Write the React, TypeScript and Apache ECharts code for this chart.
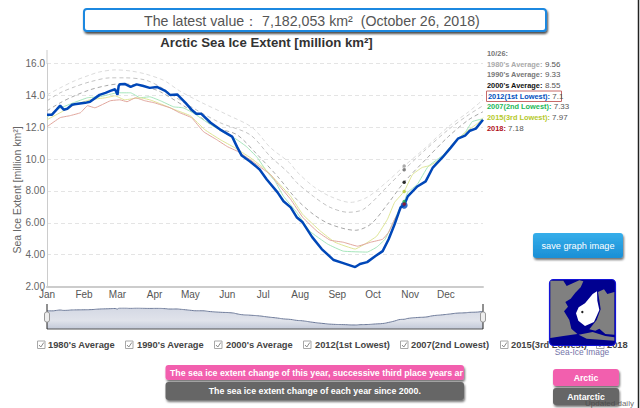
import React, { useEffect, useRef } from "react";
import * as echarts from "echarts";

const monthNames = ["Jan", "Feb", "Mar", "Apr", "May", "Jun", "Jul", "Aug", "Sep", "Oct", "Nov", "Dec"];
const monthStarts = [0, 31, 59, 90, 120, 151, 181, 212, 243, 273, 304, 334];
const yTickLabels: Record<number, string> = { 2: "2.00", 4: "4.00", 6: "6.00", 8: "8.00", 10: "10.0", 12: "12.0", 14: "14.0", 16: "16.0" };

const days1980 = [0, 11, 23, 36, 44, 57, 70, 82, 95, 100, 111, 128, 151, 172, 187, 203, 209, 223, 237, 254, 268, 285, 299, 317, 336, 353, 365];
const values1980 = [14.03, 14.47, 14.91, 15.28, 15.47, 15.6, 15.53, 15.35, 15.03, 14.85, 14.28, 13.6, 12.78, 11.97, 10.72, 9.78, 9.22, 8.28, 7.66, 7.28, 7.6, 8.6, 9.56, 10.72, 12.03, 12.97, 13.72];
const days1990 = [0, 11, 23, 36, 53, 65, 82, 95, 107, 122, 145, 170, 187, 201, 209, 223, 237, 252, 265, 285, 299, 317, 336, 353, 365];
const values1990 = [13.66, 14.16, 14.53, 14.85, 15.1, 15.1, 14.97, 14.53, 13.91, 13.22, 12.28, 11.53, 10.16, 9.22, 8.53, 7.66, 6.97, 6.66, 6.85, 8.28, 9.33, 10.6, 11.85, 12.78, 13.35];
const days2000 = [0, 11, 23, 36, 49, 61, 74, 86, 95, 117, 142, 159, 176, 193, 209, 223, 237, 258, 271, 285, 299, 317, 336, 353, 365];
const values2000 = [13.03, 13.53, 13.97, 14.35, 14.6, 14.72, 14.66, 14.47, 14.22, 13.22, 11.97, 11.53, 10.28, 8.91, 7.47, 6.53, 5.91, 5.53, 5.91, 7.16, 8.55, 9.97, 11.41, 12.47, 12.97];
const days2012 = [0, 4, 8, 11, 14, 17, 21, 23, 32, 36, 44, 49, 53, 57, 59, 60, 61, 65, 70, 75, 80, 86, 92, 99, 103, 109, 111, 116, 121, 125, 129, 137, 145, 155, 159, 163, 170, 178, 184, 193, 198, 204, 209, 214, 222, 230, 240, 248, 258, 262, 268, 275, 281, 286, 291, 296, 299, 302, 310, 317, 323, 331, 338, 344, 350, 354, 359, 365];
const values2012 = [12.78, 12.78, 13.1, 13.35, 13.1, 13.16, 13.41, 13.44, 13.53, 13.6, 14.03, 14.16, 14.28, 14.38, 14.03, 14.6, 14.69, 14.72, 14.53, 14.69, 14.6, 14.47, 14.53, 14.28, 14.03, 14.06, 13.91, 13.53, 13.1, 12.85, 12.85, 12.28, 11.85, 11.41, 10.78, 10.22, 9.85, 9.35, 8.72, 7.91, 7.35, 6.97, 6.35, 6.03, 5.1, 4.35, 3.66, 3.47, 3.22, 3.41, 3.53, 3.91, 4.22, 4.97, 5.91, 6.97, 7.1, 7.66, 8.28, 8.6, 9.47, 10.1, 10.72, 11.28, 11.47, 11.78, 11.91, 12.47];
const days2007 = [0, 8, 22, 34, 44, 59, 70, 78, 86, 95, 106, 114, 122, 137, 147, 159, 167, 176, 184, 191, 198, 209, 220, 235, 248, 268, 276, 283, 290, 296, 299, 302, 310, 319, 332, 343, 350, 356, 365];
const values2007 = [12.6, 13.1, 13.53, 13.85, 13.91, 14.16, 14.16, 13.85, 13.91, 13.66, 13.28, 13.22, 12.91, 12.16, 11.72, 11.22, 10.78, 10.1, 9.22, 8.6, 7.66, 6.66, 5.47, 4.66, 4.22, 4.16, 4.47, 4.97, 6.03, 7.03, 7.33, 7.91, 8.41, 9.53, 10.28, 11.22, 11.66, 12.35, 12.53];
const days2015 = [0, 11, 23, 36, 49, 57, 65, 78, 86, 95, 107, 120, 132, 145, 157, 170, 183, 191, 204, 214, 229, 241, 258, 266, 276, 285, 291, 299, 306, 314, 321, 331, 339, 350, 361, 365];
const values2015 = [12.47, 12.91, 13.41, 13.72, 13.85, 13.97, 13.72, 13.85, 13.72, 13.47, 13.1, 12.72, 11.85, 11.22, 10.72, 10.1, 9.35, 8.72, 7.66, 6.53, 5.47, 4.78, 4.35, 4.66, 5.16, 6.22, 7.28, 7.97, 9.03, 9.47, 9.6, 10.1, 10.91, 11.66, 12.28, 12.6];
const days2018 = [0, 11, 19, 28, 34, 40, 53, 61, 67, 74, 82, 90, 103, 111, 121, 131, 142, 151, 160, 170, 178, 187, 195, 204, 214, 226, 237, 248, 260, 271, 281, 286, 291, 299];
const values2018 = [12.03, 12.6, 12.72, 12.91, 13.35, 13.22, 13.66, 13.72, 13.6, 13.85, 13.66, 13.53, 13.22, 12.91, 12.6, 11.72, 11.22, 10.78, 10.47, 9.97, 9.53, 9.03, 8.28, 7.47, 6.35, 5.47, 4.91, 4.78, 4.53, 4.78, 4.97, 5.41, 6.22, 7.18];

const latestDay = 299;
const legendNames = ["1980's Average", "1990's Average", "2000's Average", "2012(1st Lowest)", "2007(2nd Lowest)", "2015(3rd Lowest)", "2018"];
const latestLabels = ["9.56", "9.33", "8.55", "7.1", "7.33", "7.97", "7.18"];
const latestValues = [9.56, 9.33, 8.55, 7.1, 7.33, 7.97, 7.18];
const lineColors = ["#dcdcdc", "#c4c4c4", "#a8a8a8", "#0047b8", "#a6e6bb", "#dfe696", "#e2a79e"];
const dotColors = ["#999999", "#666666", "#000000", "#0047b8", "#14a84c", "#b5cc2e", "#a60f1a"];
const labelColors = ["#aaaaaa", "#777777", "#111111", "#0050c0", "#1cb85a", "#b5c92a", "#b01020"];
const checkBoxX = [37, 125, 214, 303, 400, 500, 596];
const checkTextX = [48, 137, 226, 315, 411, 511, 607];

const zip = (d: number[], v: number[]) => d.map((x, i) => [x, v[i]]);
const seriesData = [zip(days1980, values1980), zip(days1990, values1990), zip(days2000, values2000), zip(days2012, values2012), zip(days2007, values2007), zip(days2015, values2015), zip(days2018, values2018)];

const FONT = "Arial, 'Liberation Sans', sans-serif";

function button(x: number, y: number, w: number, h: number, fill: any, text: string, font: string, textX?: number, align = "center") {
  return [
    { type: "rect", shape: { x, y, width: w, height: h, r: 3 }, style: { fill, shadowBlur: 2, shadowOffsetX: 1, shadowOffsetY: 2, shadowColor: "rgba(0,0,0,0.55)" }, z: 10 },
    { type: "text", x: textX ?? x + w / 2, y: y + h / 2, style: { text, font, fill: "#ffffff", align, verticalAlign: "middle" }, z: 11 },
  ];
}

function checkbox(x: number) {
  return [
    { type: "rect", shape: { x: x + 0.5, y: 341, width: 7.5, height: 7.5 }, style: { fill: "#fff", stroke: "#a8a8a8", lineWidth: 1 }, z: 2 },
    { type: "polyline", shape: { points: [[x + 2, 345], [x + 3.8, 347], [x + 6.8, 342.5]] }, style: { fill: "none", stroke: "#8a8a8a", lineWidth: 1 }, z: 3 },
  ];
}

function seaIceImage() {
  const X = (v: number) => 530 + v / 3;
  const Y = (v: number) => 270 + v / 3;
  const poly = (pts: number[][], fill: string, z: number) => ({ type: "polygon", shape: { points: pts.map(([a, b]) => [X(a), Y(b)]) }, style: { fill }, z });
  return [
    { type: "rect", shape: { x: 549.5, y: 279.5, width: 66, height: 66, r: 4 }, style: { fill: "#000090", stroke: "#1414d8", lineWidth: 1.2 }, z: 20 },
    poly([[61, 32], [100, 32], [110, 48], [128, 40], [148, 31], [160, 34], [152, 52], [136, 68], [122, 86], [106, 96], [114, 110], [102, 124], [118, 150], [124, 176], [142, 192], [100, 198], [61, 204]], "#808080", 21),
    poly([[204, 66], [222, 58], [232, 72], [253, 66], [253, 194], [226, 192], [208, 176], [196, 182], [178, 178], [200, 150], [212, 118], [208, 90]], "#808080", 21),
    poly([[146, 194], [188, 186], [226, 198], [253, 202], [253, 212], [170, 206]], "#808080", 21),
    poly([[146, 112], [165, 100], [188, 72], [201, 64], [202, 92], [208, 120], [192, 156], [165, 168], [145, 152], [138, 130]], "#ffffff", 23),
    { type: "circle", shape: { cx: X(157), cy: Y(126), r: 1.2 }, style: { fill: "#222" }, z: 24 },
  ];
}

function buildGraphic() {
  const legendRich: any = { v: { font: `8px ${FONT}`, fill: "#555" } };
  labelColors.forEach((c, i) => { legendRich["n" + i] = { font: `bold 7.4px ${FONT}`, fill: c }; });
  const legendRows = legendNames.map((name, i) => ({
    type: "text", x: i === 3 ? 488 : 487, y: 64 + i * 10.67,
    style: { text: `{n${i}|${name}:}{v| ${latestLabels[i]}}`, rich: legendRich, verticalAlign: "middle", font: `8px ${FONT}` }, z: 5,
  }));
  const checks = legendNames.flatMap((name, i) => [
    ...checkbox(checkBoxX[i]),
    { type: "text", x: checkTextX[i], y: 345, style: { text: name, font: `bold 9.3px ${FONT}`, fill: "#444", verticalAlign: "middle" }, z: 3 },
  ]);
  const handle = (x: number) => [
    { type: "line", shape: { x1: x, y1: 304, x2: x, y2: 329 }, style: { stroke: "#222", lineWidth: 1 }, z: 6 },
    { type: "rect", shape: { x: x - 2.5, y: 312, width: 5, height: 10, r: 2 }, style: { fill: "#eeeeee", stroke: "#999", lineWidth: 1 }, z: 7 },
  ];
  return [
    { type: "rect", shape: { x: 84, y: 9, width: 462, height: 22, r: 3 }, style: { fill: "#fff", stroke: "#1a88e0", lineWidth: 2, shadowBlur: 2, shadowOffsetX: 1, shadowOffsetY: 2, shadowColor: "rgba(0,0,0,0.7)" }, z: 4 },
    { type: "text", x: 144, y: 20.5, style: { text: "The latest value： 7,182,053 km²  (October 26, 2018)", font: `14.2px ${FONT}`, fill: "#555", verticalAlign: "middle" }, z: 5 },
    { type: "text", x: 17, y: 190, rotation: Math.PI / 2, style: { text: "Sea Ice Extent [million km²]", font: `10.5px ${FONT}`, fill: "#666", align: "center", verticalAlign: "middle" }, z: 5 },
    { type: "text", x: 487, y: 53.5, style: { text: "10/26:", font: `bold 7.4px ${FONT}`, fill: "#777", verticalAlign: "middle" }, z: 5 },
    ...legendRows,
    { type: "rect", shape: { x: 486.5, y: 91, width: 75, height: 10.5 }, style: { fill: "none", stroke: "#c86a6a", lineWidth: 1 }, z: 4 },
    { type: "line", shape: { x1: 47, y1: 50, x2: 47, y2: 64 }, style: { stroke: "#cccccc", lineWidth: 1 }, z: 1 },
    ...handle(47), ...handle(483),
    ...checks,
    ...button(533, 233, 90, 25, new echarts.graphic.LinearGradient(0, 0, 0, 1, [{ offset: 0, color: "#35aeea" }, { offset: 1, color: "#1b8fd6" }]), "save graph image", `9.2px ${FONT}`),
    ...seaIceImage(),
    { type: "text", x: 582, y: 352, style: { text: "Sea-Ice Image", font: `8.4px ${FONT}`, fill: "#7474a8", align: "center", verticalAlign: "middle" }, z: 20 },
    ...button(165.5, 365, 298.5, 15, "#f25fae", "The sea ice extent change of this year, successive third place years ar", `bold 8.8px ${FONT}`, 170, "left"),
    ...button(165.5, 382, 298.5, 18, "#666666", "The sea ice extent change of each year since 2000.", `bold 8.8px ${FONT}`),
    ...button(553, 369, 66, 17, "#f25fae", "Arctic", `bold 8.7px ${FONT}`),
    ...button(553, 388, 66, 17, "#666666", "Antarctic", `bold 8.7px ${FONT}`),
    { type: "text", x: 585, y: 403, style: { text: "Updated daily", font: `8px ${FONT}`, fill: "rgba(70,70,70,0.8)", verticalAlign: "middle" }, z: 12 },
    { type: "line", shape: { x1: 638.5, y1: 0, x2: 638.5, y2: 408 }, style: { stroke: "#222", lineWidth: 1.5 }, z: 30 },
  ];
}

export default function App() {
  const ref = useRef<HTMLDivElement>(null);
  useEffect(() => {
    document.body.style.margin = "0";
    const chart = echarts.init(ref.current!, undefined, { renderer: "svg" });
    const lines = seriesData.map((data, i) => ({
      type: "line", name: legendNames[i], data, xAxisIndex: 0, yAxisIndex: 0,
      symbol: "none", smooth: i === 3 ? false : i < 3 ? 0.3 : 0.1, z: i === 3 ? 6 : 3,
      lineStyle: { color: lineColors[i], width: i === 3 ? 2.5 : 1, type: i < 3 ? [4, 3] : "solid" },
    }));
    const dots = latestValues.map((v, i) => ({
      type: "scatter", data: [[latestDay, v]], xAxisIndex: 0, yAxisIndex: 0, symbol: "circle",
      symbolSize: i === 3 ? 7 : 3.5, itemStyle: { color: dotColors[i] }, z: i === 3 ? 7 : 8,
    }));
    chart.setOption({
      animation: false,
      backgroundColor: "#ffffff",
      textStyle: { fontFamily: FONT },
      title: { text: "Arctic Sea Ice Extent [million km²]", left: 261.5, top: 31, textAlign: "center", textStyle: { fontFamily: FONT, fontSize: 13.2, fontWeight: "bold", color: "#333" } },
      grid: [
        { left: 47, top: 63.5, width: 436, height: 223, outerBoundsMode: "none" },
        { left: 47, top: 308, width: 436, height: 21, outerBoundsMode: "none" },
      ],
      xAxis: [
        {
          type: "value", gridIndex: 0, min: 0, max: 365,
          axisLine: { show: true, lineStyle: { color: "#cccccc", width: 2 } },
          axisTick: { show: false }, splitLine: { show: false },
          axisLabel: { customValues: monthStarts, margin: 3, fontSize: 10, color: "#555", formatter: (v: number) => monthNames[monthStarts.indexOf(v)] ?? "" },
        },
        { type: "value", gridIndex: 1, min: 0, max: 365, show: false },
      ],
      yAxis: [
        {
          type: "value", gridIndex: 0, min: 2, max: 16, interval: 2,
          axisLine: { show: true, lineStyle: { color: "#cccccc", width: 1 } },
          axisTick: { show: false },
          splitLine: { show: true, lineStyle: { color: "#e4e4e4", type: [4, 3], width: 1 } },
          axisLabel: { margin: 2, fontSize: 10, color: "#666", formatter: (v: number) => yTickLabels[v] ?? "" },
        },
        { type: "value", gridIndex: 1, min: 0.5, max: 14.72, show: false },
      ],
      series: [
        ...lines,
        ...dots,
        {
          type: "line", data: seriesData[3], xAxisIndex: 1, yAxisIndex: 1, symbol: "none", smooth: 0.6,
          lineStyle: { color: "#6d7a99", width: 1 },
          areaStyle: { origin: "start", color: new echarts.graphic.LinearGradient(0, 0, 0, 1, [{ offset: 0, color: "#c2c8d8" }, { offset: 0.6, color: "#d3d7e2" }, { offset: 1, color: "#a9b2c8" }]) },
        },
      ],
      graphic: [
        { type: "group", children: buildGraphic() },
        { type: "line", shape: { x1: 47, y1: 329, x2: 483, y2: 329 }, style: { stroke: "#555", lineWidth: 1 }, z: 5 },
      ],
    });
    return () => chart.dispose();
  }, []);
  return <div ref={ref} style={{ position: "absolute", left: 0, top: 0, width: 640, height: 408 }} />;
}
